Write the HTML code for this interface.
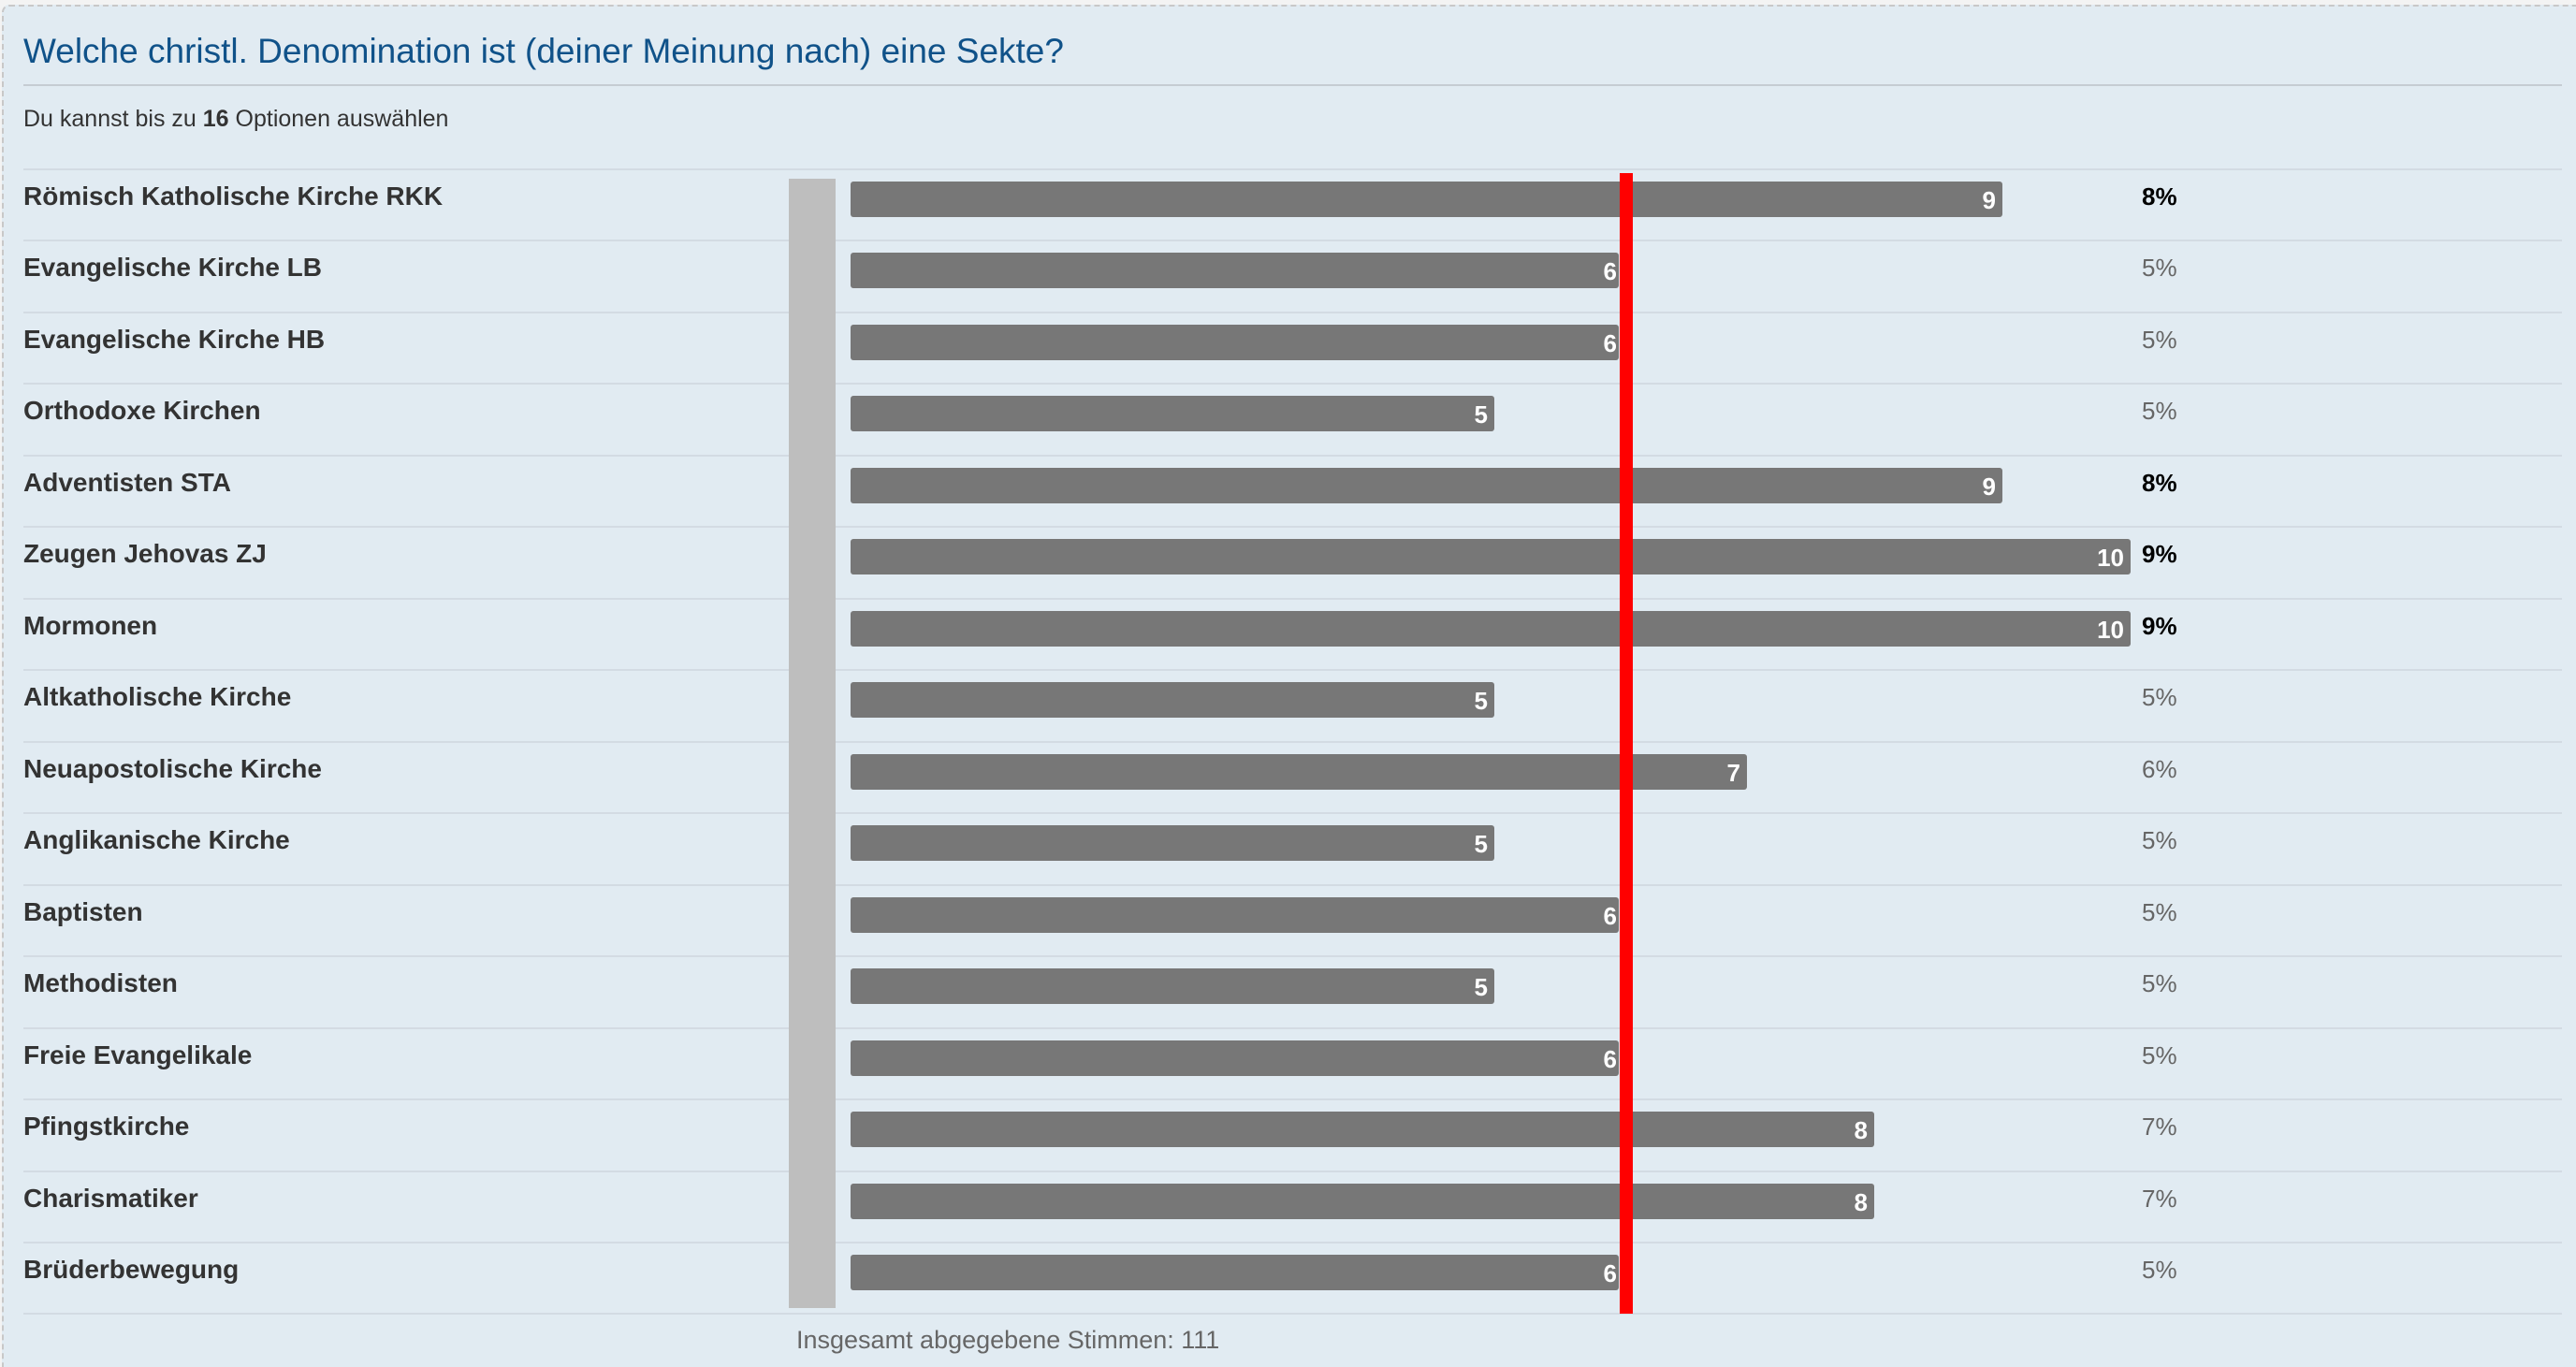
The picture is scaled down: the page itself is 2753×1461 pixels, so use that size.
<!DOCTYPE html>
<html><head><meta charset="utf-8">
<style>
html,body{margin:0;padding:0;}
body{width:2753px;height:1461px;background:#f3f3f3;position:relative;overflow:hidden;font-family:"Liberation Sans",sans-serif;}
.panel{position:absolute;left:2px;top:5px;width:2751px;height:1456px;background:#e1ebf2;border-top:2px dashed #c8c8c8;border-left:2px dashed #c8c8c8;border-top-left-radius:8px;box-sizing:border-box;}
.a{position:absolute;white-space:nowrap;}
.title{left:25px;top:33px;font-size:37px;color:#105289;line-height:44px;}
.tline{left:25px;top:90px;width:2713px;height:2px;background:#c5ccd2;}
.sub{left:25px;top:111px;font-size:25px;color:#333;line-height:32px;}
.sep{left:25px;width:2713px;height:2px;background:#d3dbe3;}
.lab{left:25px;font-size:28px;font-weight:bold;color:#333;line-height:40px;}
.gray{left:843px;top:191px;width:50px;height:1207px;background:#bebebe;z-index:2;}
.bar{left:909px;height:38px;background:#777;border-radius:3px;}
.val{color:#fff;font-weight:bold;font-size:26px;line-height:30px;text-align:right;}
.pct{left:2289px;font-size:26px;line-height:36px;color:#666;}
.pct.b{color:#000;font-weight:bold;}
.red{left:1731px;top:185px;width:14px;height:1219px;background:#ff0000;z-index:3;}
.foot{left:851px;top:1414px;font-size:27px;color:#666;line-height:36px;}
</style></head><body>
<div class="panel"></div>
<div class="a title">Welche christl. Denomination ist (deiner Meinung nach) eine Sekte?</div>
<div class="a tline"></div>
<div class="a sub">Du kannst bis zu <b>16</b> Optionen auswählen</div>
<div class="a gray"></div>

<div class="a sep" style="top:180px"></div>
<div class="a lab" style="top:190px">Römisch Katholische Kirche RKK</div>
<div class="a bar" style="top:194px;width:1231px"></div>
<div class="a val" style="left:909px;width:1224px;top:199px">9</div>
<div class="a pct b" style="top:192px">8%</div>

<div class="a sep" style="top:256px"></div>
<div class="a lab" style="top:266px">Evangelische Kirche LB</div>
<div class="a bar" style="top:270px;width:821px"></div>
<div class="a val" style="left:909px;width:819px;top:275px">6</div>
<div class="a pct" style="top:268px">5%</div>

<div class="a sep" style="top:333px"></div>
<div class="a lab" style="top:343px">Evangelische Kirche HB</div>
<div class="a bar" style="top:347px;width:821px"></div>
<div class="a val" style="left:909px;width:819px;top:352px">6</div>
<div class="a pct" style="top:345px">5%</div>

<div class="a sep" style="top:409px"></div>
<div class="a lab" style="top:419px">Orthodoxe Kirchen</div>
<div class="a bar" style="top:423px;width:688px"></div>
<div class="a val" style="left:909px;width:681px;top:428px">5</div>
<div class="a pct" style="top:421px">5%</div>

<div class="a sep" style="top:486px"></div>
<div class="a lab" style="top:496px">Adventisten STA</div>
<div class="a bar" style="top:500px;width:1231px"></div>
<div class="a val" style="left:909px;width:1224px;top:505px">9</div>
<div class="a pct b" style="top:498px">8%</div>

<div class="a sep" style="top:562px"></div>
<div class="a lab" style="top:572px">Zeugen Jehovas ZJ</div>
<div class="a bar" style="top:576px;width:1368px"></div>
<div class="a val" style="left:909px;width:1361px;top:581px">10</div>
<div class="a pct b" style="top:574px">9%</div>

<div class="a sep" style="top:639px"></div>
<div class="a lab" style="top:649px">Mormonen</div>
<div class="a bar" style="top:653px;width:1368px"></div>
<div class="a val" style="left:909px;width:1361px;top:658px">10</div>
<div class="a pct b" style="top:651px">9%</div>

<div class="a sep" style="top:715px"></div>
<div class="a lab" style="top:725px">Altkatholische Kirche</div>
<div class="a bar" style="top:729px;width:688px"></div>
<div class="a val" style="left:909px;width:681px;top:734px">5</div>
<div class="a pct" style="top:727px">5%</div>

<div class="a sep" style="top:792px"></div>
<div class="a lab" style="top:802px">Neuapostolische Kirche</div>
<div class="a bar" style="top:806px;width:958px"></div>
<div class="a val" style="left:909px;width:951px;top:811px">7</div>
<div class="a pct" style="top:804px">6%</div>

<div class="a sep" style="top:868px"></div>
<div class="a lab" style="top:878px">Anglikanische Kirche</div>
<div class="a bar" style="top:882px;width:688px"></div>
<div class="a val" style="left:909px;width:681px;top:887px">5</div>
<div class="a pct" style="top:880px">5%</div>

<div class="a sep" style="top:945px"></div>
<div class="a lab" style="top:955px">Baptisten</div>
<div class="a bar" style="top:959px;width:821px"></div>
<div class="a val" style="left:909px;width:819px;top:964px">6</div>
<div class="a pct" style="top:957px">5%</div>

<div class="a sep" style="top:1021px"></div>
<div class="a lab" style="top:1031px">Methodisten</div>
<div class="a bar" style="top:1035px;width:688px"></div>
<div class="a val" style="left:909px;width:681px;top:1040px">5</div>
<div class="a pct" style="top:1033px">5%</div>

<div class="a sep" style="top:1098px"></div>
<div class="a lab" style="top:1108px">Freie Evangelikale</div>
<div class="a bar" style="top:1112px;width:821px"></div>
<div class="a val" style="left:909px;width:819px;top:1117px">6</div>
<div class="a pct" style="top:1110px">5%</div>

<div class="a sep" style="top:1174px"></div>
<div class="a lab" style="top:1184px">Pfingstkirche</div>
<div class="a bar" style="top:1188px;width:1094px"></div>
<div class="a val" style="left:909px;width:1087px;top:1193px">8</div>
<div class="a pct" style="top:1186px">7%</div>

<div class="a sep" style="top:1251px"></div>
<div class="a lab" style="top:1261px">Charismatiker</div>
<div class="a bar" style="top:1265px;width:1094px"></div>
<div class="a val" style="left:909px;width:1087px;top:1270px">8</div>
<div class="a pct" style="top:1263px">7%</div>

<div class="a sep" style="top:1327px"></div>
<div class="a lab" style="top:1337px">Brüderbewegung</div>
<div class="a bar" style="top:1341px;width:821px"></div>
<div class="a val" style="left:909px;width:819px;top:1346px">6</div>
<div class="a pct" style="top:1339px">5%</div>

<div class="a sep" style="top:1403px"></div>
<div class="a red"></div>
<div class="a foot">Insgesamt abgegebene Stimmen: 111</div>
</body></html>
